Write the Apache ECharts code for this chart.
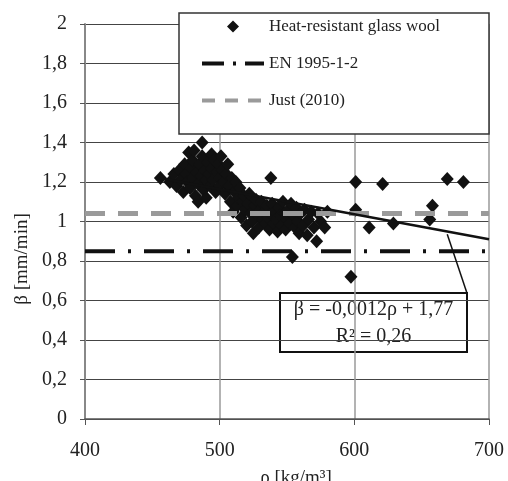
<!DOCTYPE html>
<html>
<head>
<meta charset="utf-8">
<script src="https://cdn.jsdelivr.net/npm/echarts@6/dist/echarts.min.js"></script>
<style>
  html, body { margin: 0; padding: 0; background: #fff; }
  #chart { width: 508px; height: 481px; }
</style>
</head>
<body>
<div id="chart"></div>
<script>
// measured points, [density kg/m3, charring rate mm/min]
let glassWool = [
  [456, 1.22], [463, 1.2], [466, 1.24], [468, 1.18], [470, 1.26], [471, 1.21], [473, 1.15],
  [474, 1.29], [475, 1.24], [476, 1.2], [477, 1.35], [478, 1.17], [479, 1.27], [480, 1.31],
  [480, 1.22], [481, 1.36], [482, 1.13], [483, 1.25], [484, 1.19], [484, 1.1], [485, 1.29],
  [486, 1.23], [487, 1.4], [487, 1.33], [488, 1.16], [489, 1.26], [490, 1.21], [490, 1.12],
  [491, 1.3], [492, 1.24], [493, 1.18], [494, 1.34], [494, 1.27], [495, 1.21], [496, 1.31],
  [497, 1.15], [498, 1.25], [499, 1.29], [500, 1.22], [500, 1.18], [501, 1.33], [502, 1.26],
  [503, 1.2], [504, 1.14], [505, 1.24], [506, 1.29], [507, 1.18], [508, 1.1], [509, 1.22],
  [510, 1.05], [511, 1.15], [512, 1.2], [513, 1.08], [514, 1.12], [515, 1.17], [516, 1.02],
  [517, 1.1], [518, 1.13], [519, 1.06], [520, 0.98], [521, 1.09], [522, 1.14], [523, 1.04],
  [524, 1.0], [525, 0.94], [526, 1.08], [527, 1.11], [528, 1.03], [529, 0.97], [530, 1.06],
  [531, 1.1], [532, 1.01], [533, 1.05], [534, 0.99], [535, 1.08], [536, 1.02], [537, 0.96],
  [538, 1.22], [538, 1.04], [539, 1.09], [540, 0.99], [541, 1.05], [542, 1.01], [543, 0.95],
  [544, 1.07], [545, 1.03], [546, 0.98], [547, 1.1], [548, 1.04], [549, 0.96], [550, 1.01],
  [551, 1.06], [552, 0.99], [553, 1.09], [554, 0.82], [555, 1.03], [556, 0.97], [557, 1.07],
  [558, 1.0], [559, 0.94], [560, 1.04], [562, 0.98], [563, 1.06], [565, 0.93], [566, 1.01],
  [568, 1.05], [570, 0.97], [572, 0.9], [573, 1.04], [575, 1.0], [578, 0.97], [580, 1.05],
  [597.5, 0.72], [601, 1.2], [601, 1.06], [611, 0.97], [621, 1.19], [629, 0.99],
  [656, 1.01], [658, 1.08], [669, 1.215], [681, 1.2]
];
let enLine = [[400, 0.85], [700, 0.85]];
let justLine = [[400, 1.04], [700, 1.04]];
let trendLine = [[455, 1.22], [700, 0.91]];
let leaderLine = [[669, 0.935], [683.5, 0.64]];
let xTicks = { min: 400, max: 700, step: 100 };
let yTicks = { min: 0, max: 2, step: 0.2 };

let serif = "Liberation Serif";
let chart = echarts.init(document.getElementById("chart"));

// legend diamond, padded with move-to points so it keeps its shape in a wide slot
let legendDiamond = "path://M0,0 M62,13 M31,0.5 L37,6.5 L31,12.5 L25,6.5 Z";
let noSymbol = { color: "rgba(0,0,0,0)", borderWidth: 0 };

let option = {
  backgroundColor: "#fff",
  animation: false,
  grid: { left: 85, right: 19, top: 24, bottom: 62 },
  legend: {
    z: 20,
    orient: "vertical",
    left: 200,
    top: 18,
    itemWidth: 62,
    itemHeight: 13,
    itemGap: 20,
    padding: 0,
    textStyle: { fontFamily: serif, fontSize: 17, color: "#222" },
    data: [
      { name: "Heat-resistant glass wool", icon: legendDiamond },
      {
        name: "EN 1995-1-2",
        itemStyle: noSymbol,
        lineStyle: { width: 4, type: [22, 9, 3, 9], color: "#111" },
      },
      {
        name: "Just (2010)",
        itemStyle: noSymbol,
        lineStyle: { width: 4, type: [13, 10], color: "#9a9a9a" },
      },
    ],
  },
  xAxis: {
    type: "value",
    min: xTicks.min,
    max: xTicks.max,
    interval: xTicks.step,
    axisLine: { onZero: false, lineStyle: { color: "#555", width: 1.5 } },
    axisTick: { show: true, length: 6, lineStyle: { color: "#555" } },
    axisLabel: { fontFamily: serif, fontSize: 20, color: "#222", margin: 22 },
    splitLine: { show: true, lineStyle: { color: "#9a9a9a", width: 1.5 } },
  },
  yAxis: {
    type: "value",
    min: yTicks.min,
    max: yTicks.max,
    interval: yTicks.step,
    axisLine: { show: true, lineStyle: { color: "#888", width: 2 } },
    axisTick: { show: true, length: 5, lineStyle: { color: "#555" } },
    axisLabel: {
      fontFamily: serif,
      fontSize: 20,
      color: "#222",
      margin: 18,
      formatter: (v) => String(Math.round(v * 10) / 10).replace(".", ","),
    },
    splitLine: { show: true, lineStyle: { color: "#444", width: 1 } },
  },
  series: [
    {
      name: "Just (2010)",
      type: "line",
      symbol: "none",
      data: justLine,
      lineStyle: { color: "#9a9a9a", width: 5, type: [20, 13], cap: "butt" },
      itemStyle: { color: "#9a9a9a" },
    },
    {
      name: "EN 1995-1-2",
      type: "line",
      symbol: "none",
      data: enLine,
      lineStyle: { color: "#111", width: 4, type: [30, 13, 3, 13], cap: "butt" },
      itemStyle: { color: "#111" },
    },
    {
      name: "Heat-resistant glass wool",
      type: "scatter",
      symbol: "diamond",
      symbolSize: [13, 14],
      data: glassWool,
      itemStyle: { color: "#111", opacity: 1 },
    },
    {
      name: "trend",
      type: "line",
      symbol: "none",
      data: trendLine,
      lineStyle: { color: "#111", width: 2.5 },
    },
    {
      name: "leader",
      type: "line",
      symbol: "none",
      data: leaderLine,
      lineStyle: { color: "#111", width: 1.5 },
    },
  ],
  graphic: [
    {
      type: "rect",
      z: 10,
      shape: { x: 179, y: 13, width: 310, height: 121 },
      style: { fill: "#fff", stroke: "#333", lineWidth: 1.5 },
    },
    {
      type: "group",
      z: 100,
      children: [
        {
          type: "rect",
          shape: { x: 280, y: 293, width: 187, height: 59 },
          style: { fill: "#fff", stroke: "#111", lineWidth: 2 },
        },
        {
          type: "text",
          x: 373.5,
          y: 310,
          style: {
            text: "β = -0,0012ρ + 1,77",
            font: "20px " + serif,
            fill: "#222",
            align: "center",
            verticalAlign: "middle",
          },
        },
        {
          type: "text",
          x: 373.5,
          y: 337,
          style: {
            text: "R² = 0,26",
            font: "20px " + serif,
            fill: "#222",
            align: "center",
            verticalAlign: "middle",
          },
        },
      ],
    },
    {
      type: "text",
      x: 296,
      y: 478,
      style: {
        text: "ρ [kg/m³]",
        font: "19px " + serif,
        fill: "#222",
        align: "center",
        verticalAlign: "middle",
      },
    },
    {
      type: "text",
      x: 22,
      y: 259,
      rotation: Math.PI / 2,
      style: {
        text: "β [mm/min]",
        font: "19px " + serif,
        fill: "#222",
        align: "center",
        verticalAlign: "middle",
      },
    },
  ],
};

chart.setOption(option);
</script>
</body>
</html>
